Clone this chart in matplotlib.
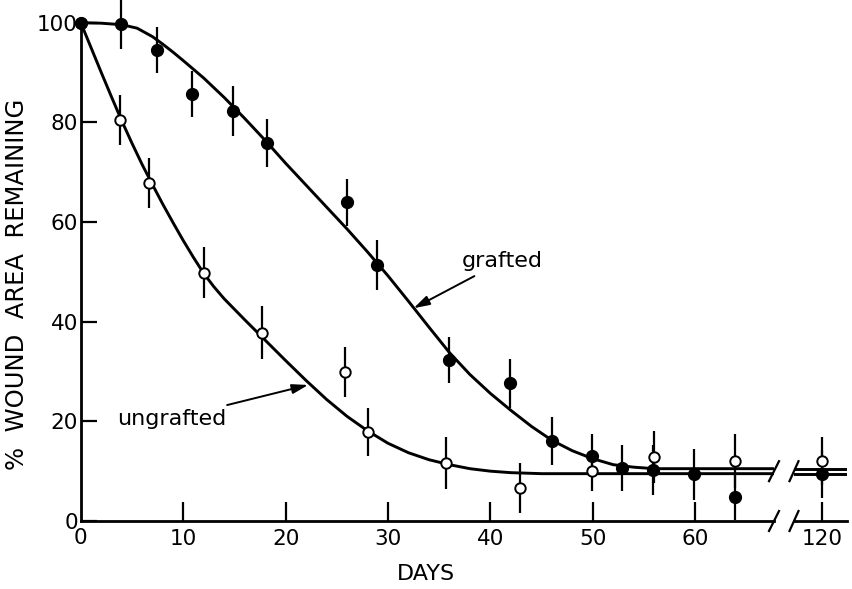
import matplotlib
matplotlib.use("Agg")
import matplotlib.pyplot as plt

# ---------------- data ----------------
grafted_days = [0, 3.9, 7.4, 10.9, 14.9, 18.2, 26.0, 28.9, 36.0, 41.9, 46.0, 49.9, 52.9, 55.9, 59.9, 63.9]
grafted_vals = [100, 99.8, 94.5, 85.7, 82.2, 75.8, 64.0, 51.4, 32.3, 27.6, 16.1, 13.1, 10.6, 10.2, 9.4, 4.8]
grafted_err = [0, 5.0, 4.6, 4.7, 5.0, 4.8, 4.7, 5.0, 4.7, 5.0, 4.8, 4.3, 4.6, 5.0, 5.1, 4.6]

ungrafted_days = [0, 3.8, 6.7, 12.0, 17.7, 25.8, 28.0, 35.7, 42.9, 49.9, 56.0, 63.9]
ungrafted_vals = [100, 80.5, 67.9, 49.8, 37.8, 29.9, 17.8, 11.7, 6.6, 10.0, 12.9, 12.0]
ungrafted_err = [0, 5.0, 5.0, 5.1, 5.3, 5.0, 4.8, 5.2, 5.0, 4.0, 5.2, 5.4]

late_day = [120]
grafted_late_val = [9.4]
grafted_late_err = [4.8]
ungrafted_late_val = [12.1]
ungrafted_late_err = [4.8]

# fitted curves
grafted_curve_days = [0, 2, 4, 5.5, 7, 8, 9, 10, 12, 14, 16, 18, 20, 22, 24, 26, 28, 30, 32, 34, 36,
                      38, 40, 42, 44, 46, 48, 50, 52, 54, 56, 68]
grafted_curve_vals = [100, 99.9, 99.6, 98.9, 97.2, 95.7, 94.1, 92.4, 88.9, 85.0, 80.8, 76.4, 71.8, 67.4,
                      63.0, 58.6, 54.0, 49.2, 44.1, 38.9, 33.8, 29.4, 25.6, 22.2, 19.0, 16.2, 14.1, 12.5,
                      11.3, 10.8, 10.5, 10.5]

ungrafted_curve_days = [0, 1, 2, 3, 4, 5, 6, 7, 8, 9, 10, 11, 12, 13, 14, 16, 18, 20, 22, 24, 26, 28,
                        30, 32, 34, 36, 38, 40, 42, 45, 68]
ungrafted_curve_vals = [100, 95.0, 90.0, 85.1, 80.3, 75.8, 71.5, 67.5, 63.6, 59.9, 56.3, 52.9, 49.7,
                        47.0, 44.6, 40.4, 36.3, 32.2, 28.2, 24.4, 21.0, 18.1, 15.6, 13.7, 12.3, 11.3,
                        10.5, 10.0, 9.7, 9.5, 9.5]

x_ticks_main = [10, 20, 30, 40, 50, 60]
x_ticks_late = [120]
y_ticks = [0, 20, 40, 60, 80, 100]

# ---------------- figure ----------------
plt.rcParams['font.family'] = ['DejaVu Sans']
fig = plt.figure(figsize=(8.53, 5.89), dpi=100)

W, H = 853.0, 589.0
x0_px, x1_px = 80.8, 774.0
y0_px = 521.0
px_per_day = 10.24
px_per_unit = 4.983
ytop = y0_px / px_per_unit

ax1 = fig.add_axes([x0_px / W, 1 - y0_px / H, (x1_px - x0_px) / W, y0_px / H])
ax1.set_xlim(0, (x1_px - x0_px) / px_per_day)
ax1.set_ylim(0, ytop)

a2_left_px, a2_right_px = 794.0, 847.0
ax2 = fig.add_axes([a2_left_px / W, 1 - y0_px / H, (a2_right_px - a2_left_px) / W, y0_px / H])
ax2.set_xlim(120 - (822.3 - a2_left_px) / px_per_day, 120 + (a2_right_px - 822.3) / px_per_day)
ax2.set_ylim(0, ytop)

lw_curve = 2.1
lw_err = 1.6
col = 'black'

# curves
ax1.plot(grafted_curve_days, grafted_curve_vals, color=col, lw=lw_curve, zorder=2,
         solid_joinstyle='round')
ax1.plot(ungrafted_curve_days, ungrafted_curve_vals, color=col, lw=lw_curve, zorder=2,
         solid_joinstyle='round')
ax2.axhline(grafted_curve_vals[-1], color=col, lw=lw_curve, zorder=2)
ax2.axhline(ungrafted_curve_vals[-1], color=col, lw=lw_curve, zorder=2)

# error bars + markers
def draw(ax, d, v, e, filled):
    eb = ax.errorbar(d, v, yerr=e, fmt='none', ecolor=col, elinewidth=lw_err, capsize=0, zorder=3)
    for c in eb.lines[2]:
        c.set_clip_on(False)
    if filled:
        ax.plot(d, v, 'o', color=col, ms=8.5, zorder=5, clip_on=False)
    else:
        ax.plot(d, v, 'o', mfc='white', mec=col, mew=1.4, ms=7.5, zorder=4, clip_on=False)

draw(ax1, ungrafted_days, ungrafted_vals, ungrafted_err, False)
draw(ax1, grafted_days, grafted_vals, grafted_err, True)
draw(ax2, late_day, ungrafted_late_val, ungrafted_late_err, False)
draw(ax2, late_day, grafted_late_val, grafted_late_err, True)

# axes styling
for ax in (ax1, ax2):
    ax.spines['top'].set_visible(False)
    ax.spines['right'].set_visible(False)
    ax.spines['bottom'].set_linewidth(2.0)
    ax.patch.set_alpha(0)
ax1.spines['left'].set_linewidth(2.0)
ax1.spines['left'].set_bounds(0, 100)
ax2.spines['left'].set_visible(False)

ax1.set_xticks(x_ticks_main)
ax1.set_yticks(y_ticks)
ax1.tick_params(axis='x', direction='in', length=14, width=1.6, labelsize=15.5, pad=6)
ax1.tick_params(axis='y', direction='in', length=11.5, width=1.6, labelsize=15.5, pad=2)
ax2.set_xticks(x_ticks_late)
ax2.set_yticks([])
ax2.tick_params(axis='x', direction='in', length=14, width=1.6, labelsize=15.5, pad=6)

# "0" label at the origin of the x axis (no tick mark there)
fig.text(x0_px / W, 1 - 538.0 / H, '0', ha='center', va='center', fontsize=15.5)

ax1.set_xlabel('DAYS', fontsize=16, va='center')
ax1.xaxis.set_label_coords((426 - x0_px) / (x1_px - x0_px), (y0_px - 574) / y0_px)
ax1.set_ylabel('%  WOUND  AREA  REMAINING', fontsize=17.5, va='center')
ax1.yaxis.set_label_coords((17 - x0_px) / (x1_px - x0_px), (y0_px - 284) / y0_px)

# break marks
def slash(ax, xa, yc, dx_px, dy_units):
    wpx = ax.get_position().width * W
    dx = dx_px / wpx
    ax.plot([xa - dx, xa + dx], [yc - dy_units, yc + dy_units], color=col, lw=1.6,
            transform=ax.get_yaxis_transform(), clip_on=False, zorder=6)

plateau_mid = (grafted_curve_vals[-1] + ungrafted_curve_vals[-1]) / 2
slash(ax1, 1.0, 0, 5, 2.0)
slash(ax1, 1.0, plateau_mid, 5, 2.0)
slash(ax2, 0.0, 0, 4.5, 2.0)
slash(ax2, 0.0, plateau_mid, 4.5, 2.0)

# annotations
arrow_style = dict(arrowstyle='-|>,head_length=0.6,head_width=0.18', color=col, lw=1.4,
                   shrinkA=3, shrinkB=0)
ax1.annotate('grafted', xy=(32.5, 42.7), xytext=(37.2, 52.1), fontsize=16, ha='left', va='center',
             arrowprops=arrow_style)
ax1.annotate('ungrafted', xy=(22.2, 27.3), xytext=(14.2, 20.5), fontsize=16, ha='right', va='center',
             arrowprops=arrow_style)

fig.savefig('out.png', dpi=100)
